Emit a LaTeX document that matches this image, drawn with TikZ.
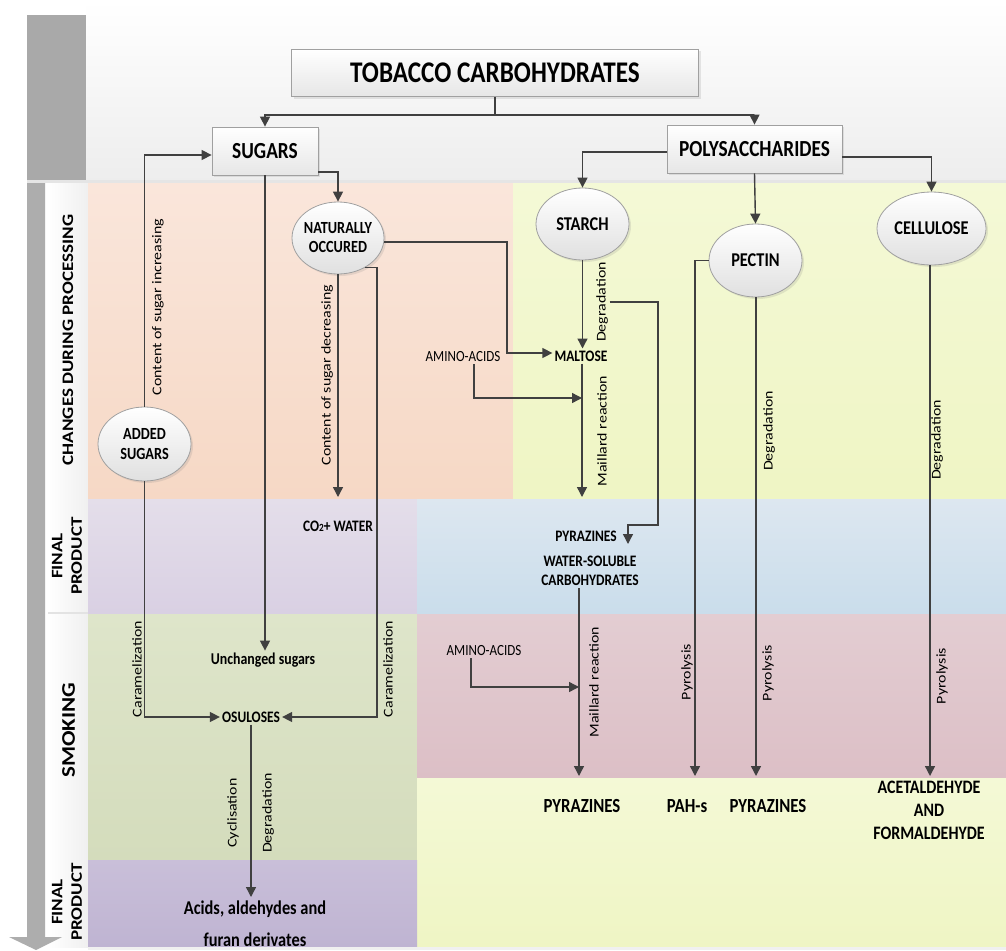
\documentclass[tikz,border=0pt]{standalone}
\usepackage{fontspec}
\setmainfont{Carlito}[FakeStretch=0.84]
\newfontfamily\rotfont{Carlito}[FakeStretch=1.19]
\usetikzlibrary{arrows.meta,shapes.geometric,shadows}
\newcommand\fsz[2]{\fontsize{#1}{#2}\selectfont}
\definecolor{linec}{HTML}{404040}
\definecolor{boxborder}{HTML}{A0A0A0}
\definecolor{boxbot}{HTML}{E6E6E6}
\definecolor{ellbot}{HTML}{E0E0E0}
\definecolor{blockgray}{HTML}{A9A9A9}
\definecolor{arrowgray}{HTML}{ADADAD}
\definecolor{orangeT}{HTML}{FAE6DB}
\definecolor{orangeB}{HTML}{F6D8C5}
\definecolor{yelT}{HTML}{F4F9D6}
\definecolor{yelB}{HTML}{EFF5C4}
\definecolor{lavT}{HTML}{E4DEEA}
\definecolor{lavB}{HTML}{D9D0E3}
\definecolor{bluT}{HTML}{DDE7F0}
\definecolor{bluB}{HTML}{CADDEB}
\definecolor{grnT}{HTML}{DEE5CA}
\definecolor{grnB}{HTML}{D4DCBC}
\definecolor{pinkT}{HTML}{E3CDD2}
\definecolor{pinkB}{HTML}{DCBFC6}
\definecolor{purT}{HTML}{C9BFD9}
\definecolor{purB}{HTML}{BFB4D2}
\begin{document}
\begin{tikzpicture}[x=1pt,y=-1pt,
  arr/.style={draw=linec, line width=1.4pt, -{Triangle[length=10pt,width=10pt]}},
  boxn/.style={rectangle, draw=boxborder, line width=0.8pt, top color=white, bottom color=boxbot, inner sep=0pt,
    drop shadow={opacity=0.18, shadow xshift=2pt, shadow yshift=-2pt}},
  ell/.style={ellipse, draw=boxborder, line width=0.8pt, top color=white, bottom color=ellbot, inner sep=0pt,
    drop shadow={opacity=0.18, shadow xshift=2pt, shadow yshift=-2pt}},
  etxt/.style={inner sep=0pt, align=center, font=\bfseries\fsz{17}{19}},
  txt/.style={inner sep=2pt, align=center},
  btxt/.style={inner sep=2pt, align=center},
  rlab/.style={rotate=90, inner sep=1.5pt, font=\rotfont\fsz{13.4}{13.4}},
  rowlab/.style={rotate=90, align=center, inner sep=0pt, font=\rotfont\bfseries\fsz{16}{19.5}},
]
\useasboundingbox (0,0) rectangle (1006,950);
\fill[white] (0,0) rectangle (1006,950);
% top area
\shade[top color=white, bottom color=gray!14] (86,0) rectangle (1006,181);
\fill[blockgray] (27,15) rectangle (86,180);
% left strip
\shade[left color=white, right color=gray!12] (48,182) rectangle (88,947);
\fill[gray!22] (48,612) rectangle (88,614);
% arrow
\fill[arrowgray] (27,182) -- (45,182) -- (45,937) -- (62,937) -- (36,950) -- (9,937) -- (27,937) -- cycle;
% row backgrounds
\shade[top color=orangeT, bottom color=orangeB] (88,182) rectangle (513,499);
\shade[top color=yelT, bottom color=yelB] (513,182) rectangle (1006,499);
\shade[top color=lavT, bottom color=lavB] (88,499) rectangle (417,613);
\shade[top color=bluT, bottom color=bluB] (417,499) rectangle (1006,613);
\shade[top color=grnT, bottom color=grnB] (88,614) rectangle (417,860);
\shade[top color=pinkT, bottom color=pinkB] (417,614) rectangle (1006,778);
\shade[top color=yelT, bottom color=yelB] (417,778) rectangle (1006,947);
\shade[top color=purT, bottom color=purB] (88,860) rectangle (417,947);
\fill[gray!20] (27,180) rectangle (1006,182.5);
\fill[gray!12] (88,947) rectangle (1006,950);

% row labels
\node[rowlab] (rl1) at (68,340) {CHANGES DURING PROCESSING};
\node[rowlab] (rl2) at (67,556) {FINAL\\PRODUCT};
\node[rowlab, font=\rotfont\bfseries\fsz{19.3}{20}] (rl3) at (68.5,730) {SMOKING};
\node[rowlab] (rl4) at (67,902) {FINAL\\PRODUCT};

% boxes
\node[boxn, minimum width=407pt, minimum height=47pt, font=\bfseries\fsz{30}{30}] (title) at (495,73) {TOBACCO CARBOHYDRATES};
\node[boxn, minimum width=106pt, minimum height=48pt, font=\bfseries\fsz{23}{23}] (sugars) at (265,151) {SUGARS};
\node[boxn, minimum width=175pt, minimum height=48pt, font=\bfseries\fsz{23}{23}] (poly) at (754.5,149) {POLYSACCHARIDES};

% ellipses
\node[ell, minimum width=92pt, minimum height=72pt] (natural) at (338,238) {};
\node[etxt] (naturalt) at (natural.center) {NATURALLY\\OCCURED};
\node[ell, minimum width=93pt, minimum height=74pt] (added) at (144.5,444) {};
\node[etxt, font=\bfseries\fsz{17}{20}] (addedt) at (added.center) {ADDED\\SUGARS};
\node[ell, minimum width=93pt, minimum height=72pt] (starch) at (582.5,224) {};
\node[etxt, font=\bfseries\fsz{19.5}{20}] (starcht) at (starch.center) {STARCH};
\node[ell, minimum width=93pt, minimum height=73pt] (pectin) at (755.5,260.5) {};
\node[etxt, font=\bfseries\fsz{19.5}{20}] (pectint) at (pectin.center) {PECTIN};
\node[ell, minimum width=109pt, minimum height=73pt] (cell) at (931.5,228.5) {};
\node[etxt, font=\bfseries\fsz{19.5}{20}] (cellt) at (cell.center) {CELLULOSE};

% text nodes
\node[btxt, font=\bfseries\fsz{16}{16}] (malt) at (581,356) {MALTOSE};
\node[txt, font=\fsz{15.5}{15.5}] (amino1) at (463,357) {AMINO-ACIDS};
\node[btxt, font=\bfseries\fsz{16}{16}] (pyr1) at (586,536) {PYRAZINES};
\node[btxt, font=\bfseries\fsz{16}{19}] (wsc) at (590,571) {WATER-SOLUBLE\\CARBOHYDRATES};
\node[btxt, font=\bfseries\fsz{16}{16}] (co2) at (338,526) {CO{\fsz{11}{11}2}+ WATER};
\node[btxt, font=\bfseries\fsz{16.5}{16.5}] (unch) at (263,660) {Unchanged sugars};
\node[btxt, font=\bfseries\fsz{16}{16}] (osu) at (251,717) {OSULOSES};
\node[btxt, font=\bfseries\fsz{19.5}{32}] (acids) at (255,924) {Acids, aldehydes and\\furan derivates};
\node[txt, font=\fsz{15.5}{15.5}] (amino2) at (484,651) {AMINO-ACIDS};
\node[btxt, font=\bfseries\fsz{20}{20}] (pyr2) at (582,806) {PYRAZINES};
\node[btxt, font=\bfseries\fsz{20}{20}] (pah) at (687,806) {PAH-s};
\node[btxt, font=\bfseries\fsz{20}{20}] (pyr3) at (768,806) {PYRAZINES};
\node[btxt, font=\bfseries\fsz{19}{23}] (acet) at (929,810) {ACETALDEHYDE\\AND\\FORMALDEHYDE};

% rotated labels
\node[rlab] (lci) at (158,307) {Content of sugar increasing};
\node[rlab] (lcd) at (327,375) {Content of sugar decreasing};
\node[rlab] (deg1) at (602,302) {Degradation};
\node[rlab] (mr1) at (602,431) {Maillard reaction};
\node[rlab] (deg2) at (769,431) {Degradation};
\node[rlab] (deg3) at (937,440) {Degradation};
\node[rlab] (car1) at (137,669) {Caramelization};
\node[rlab] (car2) at (388,669) {Caramelization};
\node[rlab] (cyc) at (233,813) {Cyclisation};
\node[rlab] (deg4) at (268,813) {Degradation};
\node[rlab] (mr2) at (594,682) {Maillard reaction};
\node[rlab] (pyl1) at (687,672) {Pyrolysis};
\node[rlab] (pyl2) at (768,673) {Pyrolysis};
\node[rlab] (pyl3) at (942,676) {Pyrolysis};

% coordinates
\coordinate (tj) at (495,115);
\coordinate (co2in) at (338,497);
\coordinate (osur) at (377,717);
\coordinate (nmb) at (507,353);
\coordinate (mj1) at (582,398);
\coordinate (mtp) at (582,497);
\coordinate (pzbend) at (658,525);
\coordinate (pzin) at (628,544);
\coordinate (mj2) at (579,687);
\coordinate (p2in) at (579,776);
\coordinate (pahin) at (695,776);
\coordinate (p3in) at (756,776);
\coordinate (acin) at (930,776);
\coordinate (osuin) at (251,897);

% connectors
\draw[arr] (title.south) -- (tj) -| (sugars.north);
\draw[arr] (tj) -| (poly.north);
\draw[arr] ([yshift=-21pt]sugars.east) -| (natural.north);
\draw[arr] (added.north) |- ([yshift=-4pt]sugars.west);
\draw[arr] (sugars.south) -- (sugars.south |- unch.north);
\draw[arr] (natural.south) -- (co2in);
\draw[arr] (natural.-47) -| (osur) -- (osu.east);
\draw[arr] (added.south) |- (osu.west);
\draw[arr] (natural.-5) -| (nmb) -- ([yshift=3pt]malt.west);
\draw[arr] ([yshift=-3pt]poly.west) -| (starch.north);
\draw[arr] (poly.south) -- (pectin.north);
\draw[arr] ([yshift=-8pt]poly.east) -| (cell.north);
\draw[arr] (starch.south) -- (starch.south |- malt.north);
\draw[arr] (deg1.south) -| (pzbend) -| (pzin);
\draw[arr] ([xshift=11pt]amino1.south) |- (mj1);
\draw[arr] (malt.south -| mtp) -- (mtp);
\draw[arr] (wsc.south -| p2in) -- (p2in);
\draw[arr] ([xshift=-13pt]amino2.south) |- (mj2);
\draw[arr] (pectin.west) -| (pahin);
\draw[arr] (pectin.south -| p3in) -- (p3in);
\draw[arr] (cell.south -| acin) -- (acin);
\draw[arr] (osu.south) -- (osuin);
\end{tikzpicture}
\end{document}
